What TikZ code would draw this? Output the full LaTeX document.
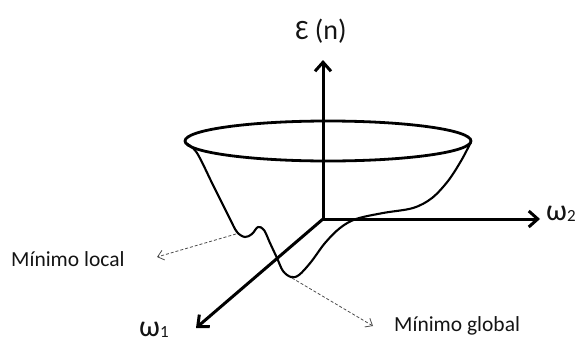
\documentclass[tikz,border=0pt]{standalone}
\usepackage{fontspec}
\setmainfont{Carlito}
\usetikzlibrary{arrows.meta}
\begin{document}
\begin{tikzpicture}[x=1pt,y=-1pt,
  axis/.style={line width=3pt,-{Straight Barb[length=9pt,width=16pt,line width=3pt]}},
  surf/.style={line width=2.1pt,line join=round},
  pointer/.style={densely dashed,line width=0.8pt,draw=black!70,-{Straight Barb[length=6pt,width=10pt,line width=0.8pt]}},
  lbl/.style={inner sep=0pt,text=black!92}]
\useasboundingbox (0,0) rectangle (581,343);
% coordinates
\coordinate (O) at (323,219);
\coordinate (Etip) at (323,60);
\coordinate (W2tip) at (540,219);
\coordinate (W1tip) at (196,328);
\coordinate (locmin) at (236,234);
\coordinate (glomin) at (292,278);
\coordinate (loctip) at (157,257);
\coordinate (glotip) at (373,326);
% surface
\draw[line width=2.8pt] (328,141) ellipse [x radius=143, y radius=20];
\draw[surf] plot[smooth,tension=0.55] coordinates {
 (186,143) (197,153) (213,185) (229,217) (237,232) (245,237) (252,234) (258,227)
 (264,230) (270,243) (277,258) (283,271) (291,277) (299,275) (311,262) (325,243)
 (340,228) (356,219) (383,213) (413,208) (432,198) (448,181) (461,161) (471,142)};
% axes
\draw[axis] (O) -- (Etip);
\draw[axis] (O) -- (W2tip);
\draw[axis] (O) -- (W1tip);
% pointers
\draw[pointer] (locmin) -- (loctip);
\draw[pointer] (glomin) -- (glotip);
% labels
\node[lbl,font=\fontsize{28}{30}\selectfont] (E) at (321,31) {Ɛ (n)};
\node[lbl,font=\fontsize{30}{32}\selectfont,anchor=west] (W2) at (546,214) {ω\raisebox{-1pt}{\fontsize{17}{18}\selectfont 2}};
\node[lbl,font=\fontsize{30}{32}\selectfont,anchor=west] (W1) at (139,330) {ω\raisebox{-1pt}{\fontsize{17}{18}\selectfont 1}};
\node[lbl,font=\fontsize{21.5}{23}\selectfont,anchor=west] (LM) at (11,259) {Mínimo local};
\node[lbl,font=\fontsize{21.5}{23}\selectfont,anchor=west] (GM) at (394,326) {Mínimo global};
\end{tikzpicture}
\end{document}
